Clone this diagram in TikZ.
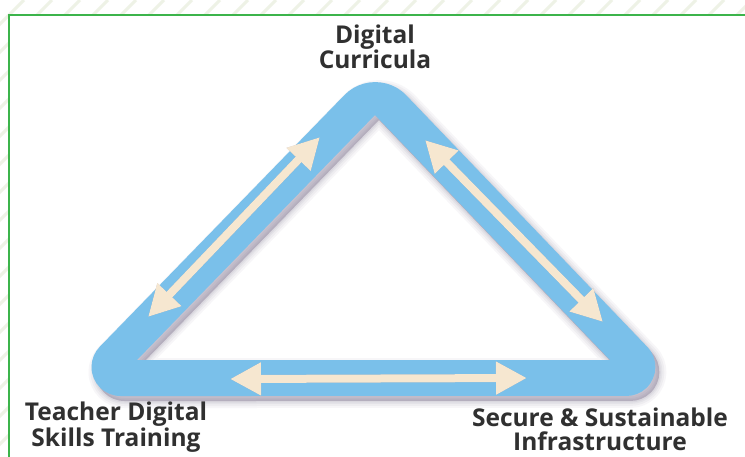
\documentclass[tikz,border=0pt]{standalone}
\usepackage{fontspec}
\setmainfont{Open Sans}
\usetikzlibrary{arrows.meta}
\definecolor{bandblue}{RGB}{122,192,234}
\definecolor{cream}{RGB}{246,231,208}
\definecolor{shadowc}{RGB}{110,96,128}
\definecolor{framegreen}{RGB}{60,180,75}
\definecolor{hatch}{RGB}{238,242,230}
\definecolor{txt}{RGB}{48,48,48}
\def\bandpath{(344.4,95.1) arc[start angle=224.2,end angle=316.2,radius=43] -- (647.3,346.9) arc[start angle=316.2,end angle=450,radius=29] -- (120.5,396) arc[start angle=90,end angle=224.2,radius=29] -- cycle (375,115) -- (610,360) -- (137,360) -- cycle}
\tikzset{
  lbl/.style={font=\bfseries\fontsize{24.5}{24}\selectfont, text=txt, align=center, inner sep=0pt},
  dblarrow/.style={line width=8pt, draw=cream, {Triangle[length=31pt,width=31pt]}-{Triangle[length=31pt,width=31pt]}},
  dblshadow/.style={line width=8pt, draw=shadowc, opacity=0.35, {Triangle[length=31pt,width=31pt]}-{Triangle[length=31pt,width=31pt]}}
}
\begin{document}
\begin{tikzpicture}[x=1pt,y=-1pt]
\useasboundingbox (0,0) rectangle (745,456);
\fill[white] (0,0) rectangle (745,456);
% hatched margin
\begin{scope}
  \clip (0,0) rectangle (745,14) (0,0) rectangle (8,456);
  \foreach \k in {-460,-432,...,760} {
    \draw[hatch, line width=3pt] (\k,456) -- (\k+456,0);
  }
\end{scope}
\draw[framegreen, line width=2.2pt] (760,15) -- (9,15) -- (9,470);
% band shadow
\begin{scope}[shift={(4,5)}]
  \foreach \w/\o in {14/0.05,10/0.06,6/0.07,3/0.08} {
    \draw[shadowc, line width=\w pt, opacity=\o, line join=round] \bandpath;
  }
  \fill[shadowc, opacity=0.35, even odd rule] \bandpath;
\end{scope}
% band
\fill[bandblue, even odd rule] \bandpath;
% arrow end points
\coordinate (l1) at (148,317);
\coordinate (l2) at (320,137);
\coordinate (r1) at (425,140);
\coordinate (r2) at (603,322);
\coordinate (b1) at (230,379);
\coordinate (b2) at (527,378);
% arrow shadows
\begin{scope}[shift={(2,2.5)}]
  \draw[dblshadow] (l1) -- (l2);
  \draw[dblshadow] (r1) -- (r2);
  \draw[dblshadow] (b1) -- (b2);
\end{scope}
\draw[dblarrow] (l1) -- (l2);
\draw[dblarrow] (r1) -- (r2);
\draw[dblarrow] (b1) -- (b2);
% labels
\node[lbl] (top) at (375,47) {Digital\\Curricula};
\node[lbl] (left) at (116,427) {Teacher Digital\\Skills Training};
\node[lbl] (right) at (600,429.5) {Secure \& Sustainable\\Infrastructure};
\end{tikzpicture}
\end{document}
